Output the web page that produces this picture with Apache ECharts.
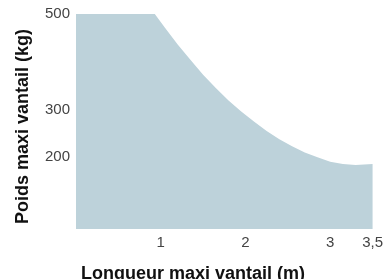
<!DOCTYPE html>
<html>
<head>
<meta charset="utf-8">
<script src="https://cdn.jsdelivr.net/npm/echarts@6/dist/echarts.min.js"></script>
<style>html,body{margin:0;padding:0;background:#fff}#c{width:386px;height:279px}</style>
</head>
<body>
<div id="c"></div>
<script>
// Longueur maxi vantail (m)
var lengths = [0, 0.93, 1.05, 1.2, 1.35, 1.5, 1.65, 1.8, 1.95, 2.1, 2.25, 2.4, 2.55, 2.7, 2.85, 3.0, 3.15, 3.3, 3.5];
// Poids maxi vantail (kg)
var weights = [500, 500, 471, 436, 404, 373, 345, 319, 296, 275, 255, 238, 223, 210, 200, 191, 186, 184, 186];
var xTicks = [1, 2, 3, 3.5];
var yTicks = [200, 300, 500];
var xTitle = 'Longueur maxi vantail (m)';
var yTitle = 'Poids maxi vantail (kg)';

var data = lengths.map(function (x, i) { return [x, weights[i]]; });
var chart = echarts.init(document.getElementById('c'));
chart.setOption({
  animation: false,
  title: {
    text: xTitle, left: 'center', top: 260,
    textStyle: { fontFamily: 'Liberation Sans, Arial, sans-serif', fontSize: 18, fontWeight: 'bold', color: '#111' }
  },
  grid: { left: 76, right: 9, top: 14, bottom: 50 },
  xAxis: {
    type: 'value', min: 0, max: 3.5,
    axisLine: { show: false }, axisTick: { show: false }, splitLine: { show: false },
    axisLabel: {
      customValues: xTicks, margin: 6, fontSize: 15, color: '#444',
      fontFamily: 'Liberation Sans, Arial, sans-serif',
      formatter: function (v) { return String(v).replace('.', ','); }
    }
  },
  yAxis: {
    type: 'value', min: 50, max: 500,
    name: yTitle, nameLocation: 'middle', nameGap: 44, nameRotate: 90,
    nameTextStyle: { fontFamily: 'Liberation Sans, Arial, sans-serif', fontSize: 18, fontWeight: 'bold', color: '#111', padding: [0, 10, 0, 0] },
    axisLine: { show: false }, axisTick: { show: false }, splitLine: { show: false },
    axisLabel: {
      customValues: yTicks, margin: 6, fontSize: 15, color: '#444',
      fontFamily: 'Liberation Sans, Arial, sans-serif'
    }
  },
  series: [{
    type: 'line', data: data, symbol: 'none', smooth: false,
    lineStyle: { width: 0 },
    areaStyle: { color: '#bdd2da', opacity: 1 }
  }]
});
</script>
</body>
</html>
